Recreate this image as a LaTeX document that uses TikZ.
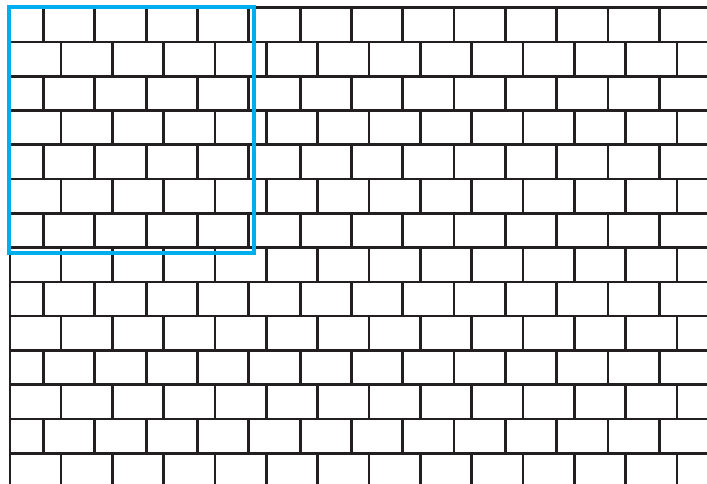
\documentclass[tikz,border=0pt]{standalone}
\definecolor{brick}{HTML}{231F20}
\definecolor{framecol}{HTML}{00AEEF}
\begin{document}
\begin{tikzpicture}[x=1pt,y=-1pt,
  mortar/.style={draw=brick,line width=2.7pt},
  frameline/.style={draw=framecol,line width=4pt}]
\useasboundingbox (0,0) rectangle (707,484);
\fill[white] (0,0) rectangle (707,484);
\clip (0,0) rectangle (707,484);
\foreach \r in {0,...,13} {
  \pgfmathsetmacro\ytop{7.7+34.27*\r}
  \pgfmathsetmacro\ybot{7.7+34.27*(\r+1)}
  \pgfmathsetmacro\off{ifthenelse(mod(\r,2)==0,43.5,61)}
  \draw[mortar] (10,\ytop) -- (708,\ytop);
  \foreach \k in {0,...,13} {
    \draw[mortar] ({\off+51.33*\k},\ytop) -- ({\off+51.33*\k},\ybot);
  }
}
\draw[mortar] (10,7.7) -- (10,486);
\draw[frameline] (9,7.3) rectangle (254,253);
\end{tikzpicture}
\end{document}
